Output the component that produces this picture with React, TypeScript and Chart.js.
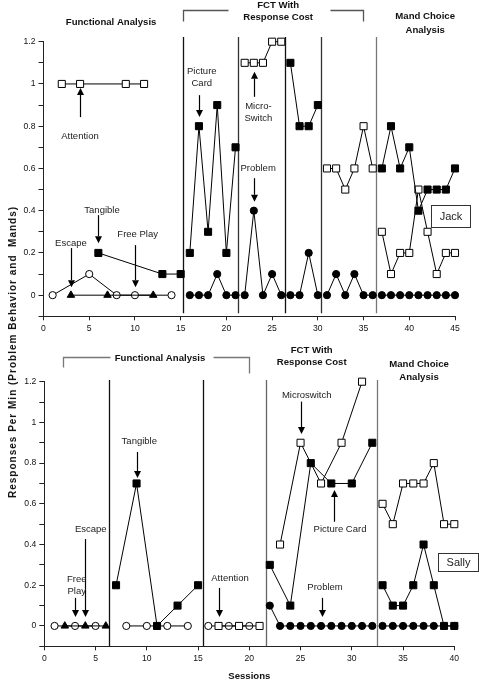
import React, { useEffect, useRef } from 'react';
import { Chart, registerables } from 'chart.js';

Chart.register(...registerables);

const FONT = '"Liberation Sans", Arial, Helvetica, sans-serif';

// ---------------- Jack (top panel) ----------------
const jackFreePlaySessions = [1, 5, 8, 10, 14];
const jackFreePlay = [0, 0.1, 0, 0, 0];
const jackEscapeSessions = [3, 7, 12];
const jackEscape = [0, 0, 0];
const jackAttentionSessions = [2, 4, 9, 11];
const jackAttention = [1, 1, 1, 1];
const jackTangibleSessions = [6, 13, 15];
const jackTangible = [0.2, 0.1, 0.1];

const jackCardSessionsA = [16, 17, 18, 19, 20, 21];
const jackCardA = [0.2, 0.8, 0.3, 0.9, 0.2, 0.7];
const jackCardSessionsB = [27, 28, 29, 30];
const jackCardB = [1.1, 0.8, 0.8, 0.9];
const jackSwitchSessionsA = [22, 23, 24, 25, 26];
const jackSwitchA = [1.1, 1.1, 1.1, 1.2, 1.2];
const jackSwitchSessionsB = [31, 32, 33, 34, 35, 36];
const jackSwitchB = [0.6, 0.6, 0.5, 0.6, 0.8, 0.6];

const jackProblemSessionsA = [16, 17, 18, 19, 20, 21];
const jackProblemA = [0, 0, 0, 0.1, 0, 0];
const jackProblemSessionsB = [22, 23, 24, 25, 26];
const jackProblemB = [0, 0.4, 0, 0.1, 0];
const jackProblemSessionsC = [27, 28, 29, 30];
const jackProblemC = [0, 0, 0.2, 0];
const jackProblemSessionsD = [31, 32, 33, 34, 35, 36];
const jackProblemD = [0, 0.1, 0, 0.1, 0, 0];

const jackMandSessions = [37, 38, 39, 40, 41, 42, 43, 44, 45];
const jackMandCard = [0.6, 0.8, 0.6, 0.7, 0.4, 0.5, 0.5, 0.5, 0.6];
const jackMandSwitch = [0.3, 0.1, 0.2, 0.2, 0.5, 0.3, 0.1, 0.2, 0.2];
const jackMandProblem = [0, 0, 0, 0, 0, 0, 0, 0, 0];

// ---------------- Sally (bottom panel) ----------------
const sallyFreePlaySessionsA = [1, 3, 5];
const sallyFreePlayA = [0, 0, 0];
const sallyFreePlaySessionsB = [8, 10, 12, 14];
const sallyFreePlayB = [0, 0, 0, 0];
const sallyFreePlaySessionsC = [16, 18, 20];
const sallyFreePlayC = [0, 0, 0];
const sallyEscapeSessions = [2, 4, 6];
const sallyEscape = [0, 0, 0];
const sallyTangibleSessions = [7, 9, 11, 13, 15];
const sallyTangible = [0.2, 0.7, 0, 0.1, 0.2];
const sallyAttentionSessions = [17, 19, 21];
const sallyAttention = [0, 0, 0];

const sallyCardSessions = [22, 24, 26, 28, 30, 32];
const sallyCard = [0.3, 0.1, 0.8, 0.7, 0.7, 0.9];
const sallySwitchSessions = [23, 25, 27, 29, 31];
const sallySwitch = [0.4, 0.9, 0.7, 0.9, 1.2];
const sallyProblemSessionsA = [22, 23, 24, 25, 26, 27, 28, 29, 30, 31, 32];
const sallyProblemA = [0.1, 0, 0, 0, 0, 0, 0, 0, 0, 0, 0];

const sallyMandSessions = [33, 34, 35, 36, 37, 38, 39, 40];
const sallyMandSwitch = [0.6, 0.5, 0.7, 0.7, 0.7, 0.8, 0.5, 0.5];
const sallyMandCard = [0.2, 0.1, 0.1, 0.2, 0.4, 0.2, 0, 0];
const sallyMandProblem = [0, 0, 0, 0, 0, 0, 0, 0];

const xTickStep = 5;
const yMin = -0.1;
const yMax = 1.2;

type Pt = { x: number; y: number | null };

function series(sessions: number[], values: number[]): Pt[] {
  return sessions.map((s, i) => ({ x: s, y: values[i] }));
}
function joined(...segs: Pt[][]): Pt[] {
  const out: Pt[] = [];
  segs.forEach((s, i) => {
    if (i > 0) out.push({ x: (out[out.length - 1].x + s[0].x) / 2, y: null });
    out.push(...s);
  });
  return out;
}

function ds(data: Pt[], style: string, filled: boolean) {
  return {
    data,
    borderColor: '#000',
    borderWidth: 1,
    pointStyle: style,
    pointRadius: style === 'rect' ? 5 : style === 'triangle' ? 4.3 : 3.6,
    pointBackgroundColor: filled ? '#000' : '#fff',
    pointBorderColor: '#000',
    pointBorderWidth: 1,
    fill: false,
    tension: 0,
    spanGaps: false,
    clip: false as any,
    showLine: true,
  };
}

interface Overlay {
  phases: { x: number; color: string }[];
  phaseTop: number;
  phaseBottom: number;
  texts: { t: string; x: number; y: number; bold?: boolean; size?: number }[];
  arrows: { x: number; from: number; to: number }[];
  brackets: { pts: [number, number][]; color: string }[];
  boxes: { x1: number; x2: number; y1: number; y2: number; label: string }[];
}

function overlayPlugin(o: Overlay) {
  return {
    id: 'overlay',
    beforeDatasetsDraw(chart: any) {
      const ctx = chart.ctx as CanvasRenderingContext2D;
      const xs = chart.scales.x;
      const ys = chart.scales.y;
      ctx.save();
      ctx.lineWidth = 1.3;
      o.phases.forEach((p) => {
        const px = Math.round(xs.getPixelForValue(p.x)) + 0.5;
        ctx.strokeStyle = p.color;
        ctx.beginPath();
        ctx.moveTo(px, ys.getPixelForValue(o.phaseTop));
        ctx.lineTo(px, ys.getPixelForValue(o.phaseBottom));
        ctx.stroke();
      });
      ctx.restore();
    },
    afterDraw(chart: any) {
      const ctx = chart.ctx as CanvasRenderingContext2D;
      const xs = chart.scales.x;
      const ys = chart.scales.y;
      const X = (v: number) => xs.getPixelForValue(v);
      const Y = (v: number) => ys.getPixelForValue(v);
      ctx.save();
      // brackets
      o.brackets.forEach((b) => {
        ctx.strokeStyle = b.color;
        ctx.lineWidth = 1.3;
        ctx.beginPath();
        b.pts.forEach(([x, y], i) => {
          const px = Math.round(X(x)) + 0.5;
          const py = Math.round(Y(y)) + 0.5;
          if (i === 0) ctx.moveTo(px, py);
          else ctx.lineTo(px, py);
        });
        ctx.stroke();
      });
      // arrows
      ctx.strokeStyle = '#000';
      ctx.fillStyle = '#000';
      o.arrows.forEach((a) => {
        const px = Math.round(X(a.x)) + 0.5;
        const p1 = Y(a.from);
        const p2 = Y(a.to);
        const dir = p2 > p1 ? 1 : -1;
        const head = 7;
        ctx.lineWidth = 1.2;
        ctx.beginPath();
        ctx.moveTo(px, p1);
        ctx.lineTo(px, p2 - dir * head);
        ctx.stroke();
        ctx.beginPath();
        ctx.moveTo(px, p2);
        ctx.lineTo(px - 3.5, p2 - dir * head);
        ctx.lineTo(px + 3.5, p2 - dir * head);
        ctx.closePath();
        ctx.fill();
      });
      // texts
      ctx.textAlign = 'center';
      ctx.textBaseline = 'middle';
      o.texts.forEach((t) => {
        ctx.font = `${t.bold ? 'bold ' : ''}${t.size ?? (t.bold ? 9.6 : 9.5)}px ${FONT}`;
        ctx.fillStyle = t.bold ? '#111' : '#222';
        ctx.fillText(t.t, X(t.x), Y(t.y));
      });
      // boxes
      o.boxes.forEach((b) => {
        const x1 = Math.round(X(b.x1)) + 0.5;
        const x2 = Math.round(X(b.x2)) + 0.5;
        const y1 = Math.round(Y(b.y1)) + 0.5;
        const y2 = Math.round(Y(b.y2)) + 0.5;
        ctx.fillStyle = '#fff';
        ctx.fillRect(x1, y1, x2 - x1, y2 - y1);
        ctx.strokeStyle = '#333';
        ctx.lineWidth = 1;
        ctx.strokeRect(x1, y1, x2 - x1, y2 - y1);
        ctx.fillStyle = '#222';
        ctx.font = `11px ${FONT}`;
        ctx.fillText(b.label, (x1 + x2) / 2, (y1 + y2) / 2 + 0.5);
      });
      ctx.restore();
    },
  };
}

function makeChart(
  canvas: HTMLCanvasElement,
  datasets: any[],
  xMax: number,
  padding: { left: number; top: number; right: number; bottom: number },
  yWidth: number,
  overlay: Overlay
) {
  const tickFont = { family: FONT, size: 8.6 };
  return new Chart(canvas, {
    type: 'line',
    data: { datasets },
    options: {
      animation: false,
      responsive: false,
      maintainAspectRatio: false,
      events: [],
      layout: { padding },
      plugins: { legend: { display: false }, tooltip: { enabled: false }, title: { display: false } },
      scales: {
        x: {
          type: 'linear',
          min: 0,
          max: xMax,
          afterFit: (s: any) => {
            s.height = 20;
          },
          ticks: {
            stepSize: xTickStep,
            autoSkip: false,
            maxRotation: 0,
            font: tickFont,
            color: '#111',
            padding: 3,
            callback: (v: any) => String(v),
          },
          grid: { drawOnChartArea: false, drawTicks: true, tickLength: 4, color: '#222', lineWidth: 1 },
          border: { display: true, color: '#222', width: 1 },
        },
        y: {
          type: 'linear',
          min: yMin,
          max: yMax,
          afterFit: (s: any) => {
            s.width = yWidth;
          },
          ticks: {
            stepSize: 0.1,
            autoSkip: false,
            font: tickFont,
            color: '#111',
            padding: 3,
            callback: (v: any) => {
              const t = Math.round(Number(v) * 10);
              return t >= 0 && t % 2 === 0 ? String(t / 10) : '';
            },
          },
          grid: { drawOnChartArea: false, drawTicks: true, tickLength: 5, color: '#222', lineWidth: 1 },
          border: { display: true, color: '#222', width: 1 },
        },
      },
    } as any,
    plugins: [overlayPlugin(overlay) as any],
  });
}

const jackOverlay: Overlay = {
  phases: [
    { x: 15.3, color: '#111' },
    { x: 21.3, color: '#333' },
    { x: 26.4, color: '#111' },
    { x: 30.4, color: '#333' },
    { x: 36.4, color: '#777' },
  ],
  phaseTop: 1.222,
  phaseBottom: -0.085,
  texts: [
    { t: 'Functional Analysis', x: 7.39, y: 1.293, bold: true },
    { t: 'FCT With', x: 25.66, y: 1.374, bold: true },
    { t: 'Response Cost', x: 25.66, y: 1.317, bold: true },
    { t: 'Mand Choice', x: 41.74, y: 1.318, bold: true },
    { t: 'Analysis', x: 41.74, y: 1.252, bold: true },
    { t: 'Attention', x: 3.99, y: 0.753 },
    { t: 'Tangible', x: 6.4, y: 0.403 },
    { t: 'Escape', x: 3.0, y: 0.246 },
    { t: 'Free Play', x: 10.3, y: 0.289 },
    { t: 'Picture', x: 17.31, y: 1.061 },
    { t: 'Card', x: 17.31, y: 1.004 },
    { t: 'Micro-', x: 23.5, y: 0.895 },
    { t: 'Switch', x: 23.5, y: 0.837 },
    { t: 'Problem', x: 23.47, y: 0.602 },
  ],
  arrows: [
    { x: 4, from: 0.843, to: 0.981 },
    { x: 6, from: 0.379, to: 0.246 },
    { x: 3, from: 0.223, to: 0.038 },
    { x: 10, from: 0.237, to: 0.038 },
    { x: 17, from: 0.947, to: 0.843 },
    { x: 23, from: 0.939, to: 1.058 },
    { x: 23, from: 0.554, to: 0.442 },
  ],
  brackets: [
    { pts: [[15.3, 1.299], [15.3, 1.35], [20.2, 1.35]], color: '#555' },
    { pts: [[31.35, 1.35], [34.92, 1.35], [34.92, 1.299]], color: '#555' },
  ],
  boxes: [{ x1: 42.4, x2: 46.6, y1: 0.426, y2: 0.324, label: 'Jack' }],
};

const sallyOverlay: Overlay = {
  phases: [
    { x: 6.31, color: '#111' },
    { x: 15.53, color: '#111' },
    { x: 21.63, color: '#666' },
    { x: 32.43, color: '#777' },
  ],
  phaseTop: 1.208,
  phaseBottom: -0.1,
  texts: [
    { t: 'Functional Analysis', x: 11.29, y: 1.316, bold: true },
    { t: 'FCT With', x: 26.09, y: 1.356, bold: true },
    { t: 'Response Cost', x: 26.09, y: 1.293, bold: true },
    { t: 'Mand Choice', x: 36.56, y: 1.287, bold: true },
    { t: 'Analysis', x: 36.56, y: 1.223, bold: true },
    { t: 'Tangible', x: 9.27, y: 0.905 },
    { t: 'Escape', x: 4.53, y: 0.475 },
    { t: 'Free', x: 3.16, y: 0.231 },
    { t: 'Play', x: 3.16, y: 0.168 },
    { t: 'Attention', x: 18.12, y: 0.234 },
    { t: 'Microswitch', x: 25.6, y: 1.131 },
    { t: 'Picture Card', x: 28.85, y: 0.475 },
    { t: 'Problem', x: 27.39, y: 0.188 },
    { t: 'Sessions', x: 20, y: -0.2456, bold: true },
  ],
  arrows: [
    { x: 9, from: 0.855, to: 0.727 },
    { x: 4, from: 0.427, to: 0.044 },
    { x: 3, from: 0.138, to: 0.044 },
    { x: 17, from: 0.187, to: 0.044 },
    { x: 25, from: 1.102, to: 0.943 },
    { x: 28.3, from: 0.512, to: 0.668 },
    { x: 27.12, from: 0.138, to: 0.044 },
  ],
  brackets: [
    { pts: [[1.8, 1.274], [1.8, 1.32], [6.41, 1.32]], color: '#777' },
    { pts: [[16.46, 1.32], [20.0, 1.32], [20.0, 1.243]], color: '#777' },
  ],
  boxes: [{ x1: 38.4, x2: 42.34, y1: 0.359, y2: 0.272, label: 'Sally' }],
};

export default function App() {
  const topRef = useRef<HTMLCanvasElement | null>(null);
  const botRef = useRef<HTMLCanvasElement | null>(null);

  useEffect(() => {
    if (!topRef.current || !botRef.current) return;

    const jackSets = [
      ds(joined(series(jackCardSessionsA, jackCardA), series(jackCardSessionsB, jackCardB), series(jackMandSessions, jackMandCard)), 'rect', true),
      ds(series(jackTangibleSessions, jackTangible), 'rect', true),
      ds(joined(series(jackSwitchSessionsA, jackSwitchA), series(jackSwitchSessionsB, jackSwitchB), series(jackMandSessions, jackMandSwitch)), 'rect', false),
      ds(series(jackAttentionSessions, jackAttention), 'rect', false),
      ds(
        joined(
          series(jackProblemSessionsA, jackProblemA),
          series(jackProblemSessionsB, jackProblemB),
          series(jackProblemSessionsC, jackProblemC),
          series(jackProblemSessionsD, jackProblemD),
          series(jackMandSessions, jackMandProblem)
        ),
        'circle',
        true
      ),
      ds(series(jackEscapeSessions, jackEscape), 'triangle', true),
      ds(series(jackFreePlaySessions, jackFreePlay), 'circle', false),
    ];

    const sallySets = [
      ds(joined(series(sallyCardSessions, sallyCard), series(sallyMandSessions, sallyMandCard)), 'rect', true),
      ds(series(sallyTangibleSessions, sallyTangible), 'rect', true),
      ds(joined(series(sallySwitchSessions, sallySwitch), series(sallyMandSessions, sallyMandSwitch)), 'rect', false),
      ds(series(sallyAttentionSessions, sallyAttention), 'rect', false),
      ds(joined(series(sallyProblemSessionsA, sallyProblemA), series(sallyMandSessions, sallyMandProblem)), 'circle', true),
      ds(series(sallyEscapeSessions, sallyEscape), 'triangle', true),
      ds(
        joined(
          series(sallyFreePlaySessionsA, sallyFreePlayA),
          series(sallyFreePlaySessionsB, sallyFreePlayB),
          series(sallyFreePlaySessionsC, sallyFreePlayC)
        ),
        'circle',
        false
      ),
    ];

    const c1 = makeChart(topRef.current, jackSets, 45, { left: 0, top: 41.7, right: 24, bottom: 3.7 }, 43.5, jackOverlay);
    const c2 = makeChart(botRef.current, sallySets, 40, { left: 0, top: 41.7, right: 24.7, bottom: 15.7 }, 44.3, sallyOverlay);
    return () => {
      c1.destroy();
      c2.destroy();
    };
  }, []);

  return (
    <div style={{ position: 'absolute', left: 0, top: 0, width: 479, height: 682, background: '#fff', overflow: 'hidden' }}>
      <canvas ref={topRef} width={479} height={340} style={{ position: 'absolute', left: 0, top: 0, width: 479, height: 340 }} />
      <canvas ref={botRef} width={479} height={342} style={{ position: 'absolute', left: 0, top: 340, width: 479, height: 342 }} />
      <div
        style={{
          position: 'absolute',
          left: 13,
          top: 352,
          transform: 'translate(-50%, -50%) rotate(-90deg)',
          whiteSpace: 'pre',
          fontFamily: FONT,
          fontWeight: 'bold',
          fontSize: 10,
          letterSpacing: '1px',
          color: '#111',
          lineHeight: '12px',
        }}
      >
        Responses Per Min (Problem Behavior and  Mands)
      </div>
    </div>
  );
}
